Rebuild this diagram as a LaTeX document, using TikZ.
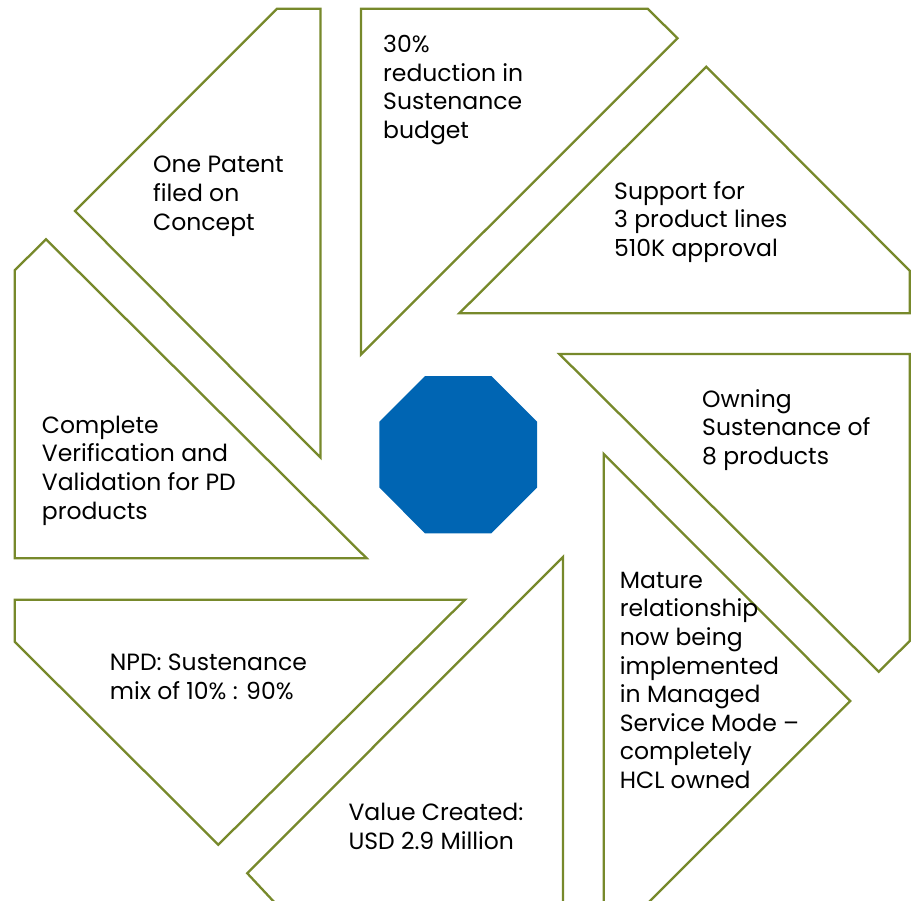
\documentclass[tikz,border=0pt]{standalone}
\usepackage{fontspec}
\setmainfont{Poppins}
\definecolor{olive}{HTML}{77892B}
\definecolor{octblue}{HTML}{0065B3}
\tikzset{
  petal/.style={draw=olive, line width=2.3pt, line join=miter, fill=white},
  txt/.style={anchor=base west, inner sep=0pt, align=left, text=black,
    font=\fontsize{23.5}{28.6}\selectfont},
}
\begin{document}
\begin{tikzpicture}[x=1pt,y=-1pt]
\useasboundingbox (0,0) rectangle (912,901);
\clip (0,0) rectangle (912,901);
% petals
\draw[petal] (277,8.7) -- (320.5,8.7) -- (320.5,457.5) -- (75,211) -- cycle;
\draw[petal] (361,8.7) -- (647.7,8.7) -- (677.5,38.3) -- (361,354.5) -- cycle;
\draw[petal] (706.3,66.7) -- (909.7,270.7) -- (909.7,313.3) -- (459.3,313.3) -- cycle;
\draw[petal] (559.3,354) -- (909.7,354) -- (909.7,641) -- (878.7,671.7) -- cycle;
\draw[petal] (603.7,454) -- (850.3,701) -- (647,904) -- (603.7,904) -- cycle;
\draw[petal] (563,557) -- (563,904) -- (276,904) -- (247.3,873.3) -- cycle;
\draw[petal] (14.7,599.7) -- (465,599.7) -- (218.3,844.7) -- (14.7,641.7) -- cycle;
\draw[petal] (46,239.3) -- (366.7,558.3) -- (14.7,558.3) -- (14.7,270.3) -- cycle;
% centre octagon
\fill[octblue] (425,376) -- (491.3,376) -- (537,421.7) -- (537,487.5) -- (491.3,533.3) -- (425,533.3) -- (379.3,487.5) -- (379.3,421.7) -- cycle;
% texts (anchored at the baseline of their last line)
\node[txt] (patent) at (153,230.2) {One Patent\\filed on\\Concept};
\node[txt] (budget) at (383,138.5) {30\%\\reduction in\\Sustenance\\budget};
\node[txt] (support) at (614,256.5) {Support for\\3 product lines\\510K approval};
\node[txt] (owning) at (702,464.5) {Owning\\Sustenance of\\8 products};
\node[txt] (mature) at (619.7,788.5) {Mature\\relationship\\now being\\implemented\\in Managed\\Service Mode –\\completely\\HCL owned};
\node[txt] (value) at (348.3,849.3) {Value Created:\\USD 2.9 Million};
\node[txt] (npd) at (109.7,699.3) {NPD: Sustenance\\mix of 10\% : 90\%};
\node[txt] (verif) at (41.7,519.1) {Complete\\Verification and\\Validation for PD\\products};
\end{tikzpicture}
\end{document}
